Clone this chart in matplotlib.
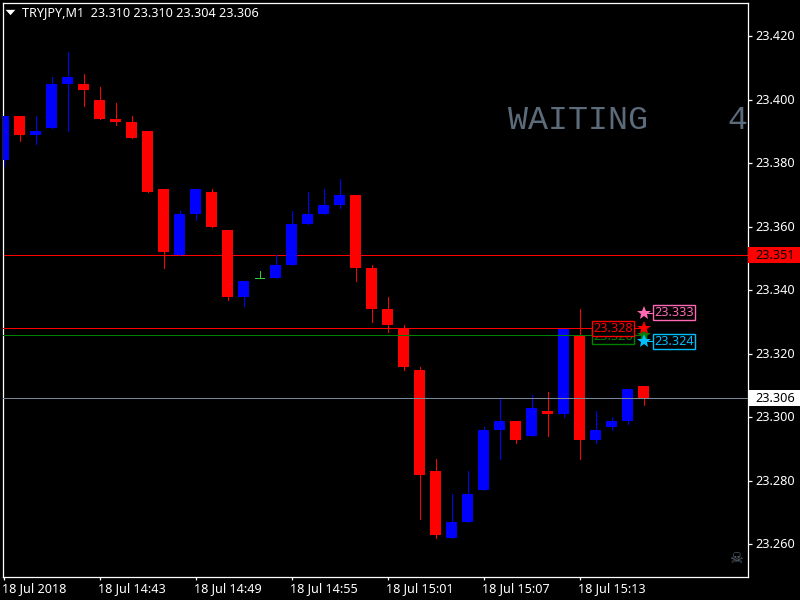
import matplotlib

matplotlib.use("Agg")
import matplotlib.pyplot as plt
from matplotlib.patches import Rectangle
from matplotlib.transforms import ScaledTranslation
import numpy as np

opens = [23.381, 23.395, 23.389, 23.391, 23.405, 23.405, 23.400, 23.394, 23.393, 23.390, 23.372,
         23.351, 23.364, 23.371, 23.359, 23.338, 23.344, 23.344, 23.348, 23.361, 23.364, 23.367,
         23.370, 23.347, 23.334, 23.328, 23.315, 23.283, 23.262, 23.267, 23.277, 23.296, 23.299,
         23.294, 23.302, 23.301, 23.326, 23.293, 23.297, 23.299, 23.310]
highs = [23.395, 23.395, 23.395, 23.407, 23.415, 23.408, 23.404, 23.399, 23.395, 23.390, 23.372,
         23.365, 23.372, 23.372, 23.359, 23.343, 23.346, 23.351, 23.365, 23.371, 23.372, 23.375,
         23.370, 23.348, 23.338, 23.329, 23.316, 23.287, 23.276, 23.283, 23.297, 23.306, 23.299,
         23.307, 23.308, 23.328, 23.334, 23.302, 23.300, 23.309, 23.310]
lows = [23.379, 23.387, 23.386, 23.391, 23.390, 23.398, 23.394, 23.392, 23.388, 23.371, 23.347,
        23.351, 23.362, 23.360, 23.337, 23.335, 23.344, 23.344, 23.348, 23.361, 23.364, 23.366,
        23.343, 23.330, 23.327, 23.315, 23.268, 23.262, 23.262, 23.267, 23.277, 23.287, 23.292,
        23.294, 23.294, 23.300, 23.287, 23.292, 23.296, 23.298, 23.304]
closes = [23.395, 23.389, 23.390, 23.405, 23.407, 23.403, 23.394, 23.393, 23.388, 23.371, 23.352,
          23.364, 23.372, 23.360, 23.338, 23.343, 23.344, 23.348, 23.361, 23.364, 23.367, 23.370,
          23.347, 23.334, 23.329, 23.316, 23.282, 23.263, 23.267, 23.276, 23.296, 23.299, 23.293,
          23.303, 23.301, 23.328, 23.293, 23.296, 23.299, 23.309, 23.306]

price_ticks = [23.260, 23.280, 23.300, 23.320, 23.340, 23.360, 23.380, 23.400, 23.420]
time_ticks = [0, 6, 12, 18, 24, 30, 36]
time_labels = ["18 Jul 2018", "18 Jul 14:43", "18 Jul 14:49", "18 Jul 14:55",
               "18 Jul 15:01", "18 Jul 15:07", "18 Jul 15:13"]
header = "TRYJPY,M1  23.310 23.310 23.304 23.306"
bid = 23.306
level_red = 23.328
level_green = 23.326
level_pink = 23.333
level_blue = 23.324
level_ask = 23.351
star_bar = 40

BLUE = "#0000ff"
RED = "#ff0000"
DOJI = "#32cd32"
GREEN = "#008000"
PINK = "#ff69b4"
SKY = "#00bfff"
SLATE = "#778899"
DIM_SLATE = "#5c6b7a"
UI_FONT = ["Noto Sans", "DejaVu Sans"]
LABEL_SIZE = 9.1
PX = 0.72

fig = plt.figure(figsize=(8, 6), dpi=100, facecolor="black")
ax = fig.add_axes([2.5 / 800, 1 - 576.5 / 600, 745 / 800, 574 / 600], facecolor="black")
ax.set_xlim(-0.0625, 46.5)
ax.set_ylim(23.2499, 23.4306)

xs = np.arange(len(opens))
o = np.array(opens)
c = np.array(closes)
colors = [BLUE if b > a else RED if b < a else DOJI for a, b in zip(o, c)]

ax.vlines(xs, lows, highs, colors=colors, linewidth=PX, antialiased=False, zorder=3)
for x, a, b, color in zip(xs, o, c, colors):
    if a == b:
        ax.hlines(a, x - 0.31, x + 0.31, colors=color, linewidth=PX, antialiased=False, zorder=3)
ax.bar(xs, np.abs(c - o), bottom=np.minimum(o, c), width=0.6875, color=colors,
       linewidth=0, antialiased=False, zorder=4)

# full width lines, current prices
ax.axhline(level_ask, color=RED, linewidth=PX, zorder=2)
ax.axhline(bid, color=SLATE, linewidth=PX, zorder=5)

# levels running up to the stars
ax.hlines(level_green, -0.0625, star_bar, colors=GREEN, linewidth=PX, antialiased=False, zorder=5)
ax.hlines(level_red, -0.0625, star_bar, colors=RED, linewidth=PX, antialiased=False, zorder=5)
ax.hlines(level_pink, star_bar, 41.0, colors=PINK, linewidth=PX, antialiased=False, zorder=5)
ax.hlines(level_blue, star_bar, 41.0, colors=SKY, linewidth=PX, antialiased=False, zorder=5)

stars = [(level_pink, PINK), (level_green, GREEN), (level_red, RED), (level_blue, SKY)]
for level, color in stars:
    ax.plot([star_bar], [level], marker="*", color=color, markersize=10, markeredgewidth=0, zorder=6)


def price_box(x, y, text, color):
    ax.text(x, y, text, color=color, family=UI_FONT, fontsize=LABEL_SIZE, ha="center",
            va="center", zorder=7,
            bbox=dict(boxstyle="square,pad=0.08", facecolor="black", edgecolor=color, linewidth=1.0))


price_box(41.9, level_pink, "23.333", PINK)
price_box(38.1, level_green - 0.0005, "23.326", GREEN)
price_box(38.1, level_red, "23.328", RED)
price_box(41.9, level_blue, "23.324", SKY)

for side in ("left", "right", "top", "bottom"):
    ax.spines[side].set_color("white")
    ax.spines[side].set_linewidth(0.9)

ax.yaxis.tick_right()
ax.set_yticks(price_ticks)
ax.set_yticklabels([f"{p:.3f}" for p in price_ticks], family=UI_FONT, fontsize=LABEL_SIZE, color="white")
ax.tick_params(axis="y", length=3, width=0.9, color="white", pad=2.4)
ax.set_xticks(time_ticks)
ax.set_xticklabels(time_labels, family=UI_FONT, fontsize=LABEL_SIZE, color="white", ha="left")
ax.tick_params(axis="x", length=2.2, width=0.9, color="white", pad=1.6)
nudge_x = ScaledTranslation(-1.5 / 100, 0, fig.dpi_scale_trans)
for label in ax.get_xticklabels():
    label.set_transform(label.get_transform() + nudge_x)
nudge_y = ScaledTranslation(0, 1 / 100, fig.dpi_scale_trans)
for label in ax.get_yticklabels():
    label.set_transform(label.get_transform() + nudge_y)

# price tags on the axis
right = ax.get_yaxis_transform()
for level, text, face in [(level_ask, "23.351", RED), (bid, "23.306", "white")]:
    ax.add_patch(Rectangle((1.0013, level - 0.0025), 0.0695, 0.005, transform=right, facecolor=face,
                           edgecolor="none", clip_on=False, zorder=8))
    ax.text(1.0100, level, text, transform=right, color="black", family=UI_FONT, fontsize=LABEL_SIZE,
            va="center", ha="left", clip_on=False, zorder=9)

# header
ax.plot([0.0107], [0.9826], transform=ax.transAxes, marker=[(-1, 0.55), (1, 0.55), (0, -0.55)],
        color="white", markersize=7, markeredgewidth=0, zorder=9)
ax.text(0.0265, 0.9825, header, transform=ax.transAxes, color="white", family=UI_FONT,
        fontsize=LABEL_SIZE, va="center", ha="left", zorder=9)

ax.text(0.679, 0.7944, "WAITING    4", transform=ax.transAxes, color=DIM_SLATE, family="Liberation Mono",
        fontsize=24, va="center", ha="left", zorder=1)
ax.text(0.984, 0.0305, "\u2620", transform=ax.transAxes, color=DIM_SLATE, family="DejaVu Sans",
        fontsize=11, va="center", ha="center", zorder=9)

fig.savefig("out.png", dpi=100, facecolor="black")
plt.close(fig)
